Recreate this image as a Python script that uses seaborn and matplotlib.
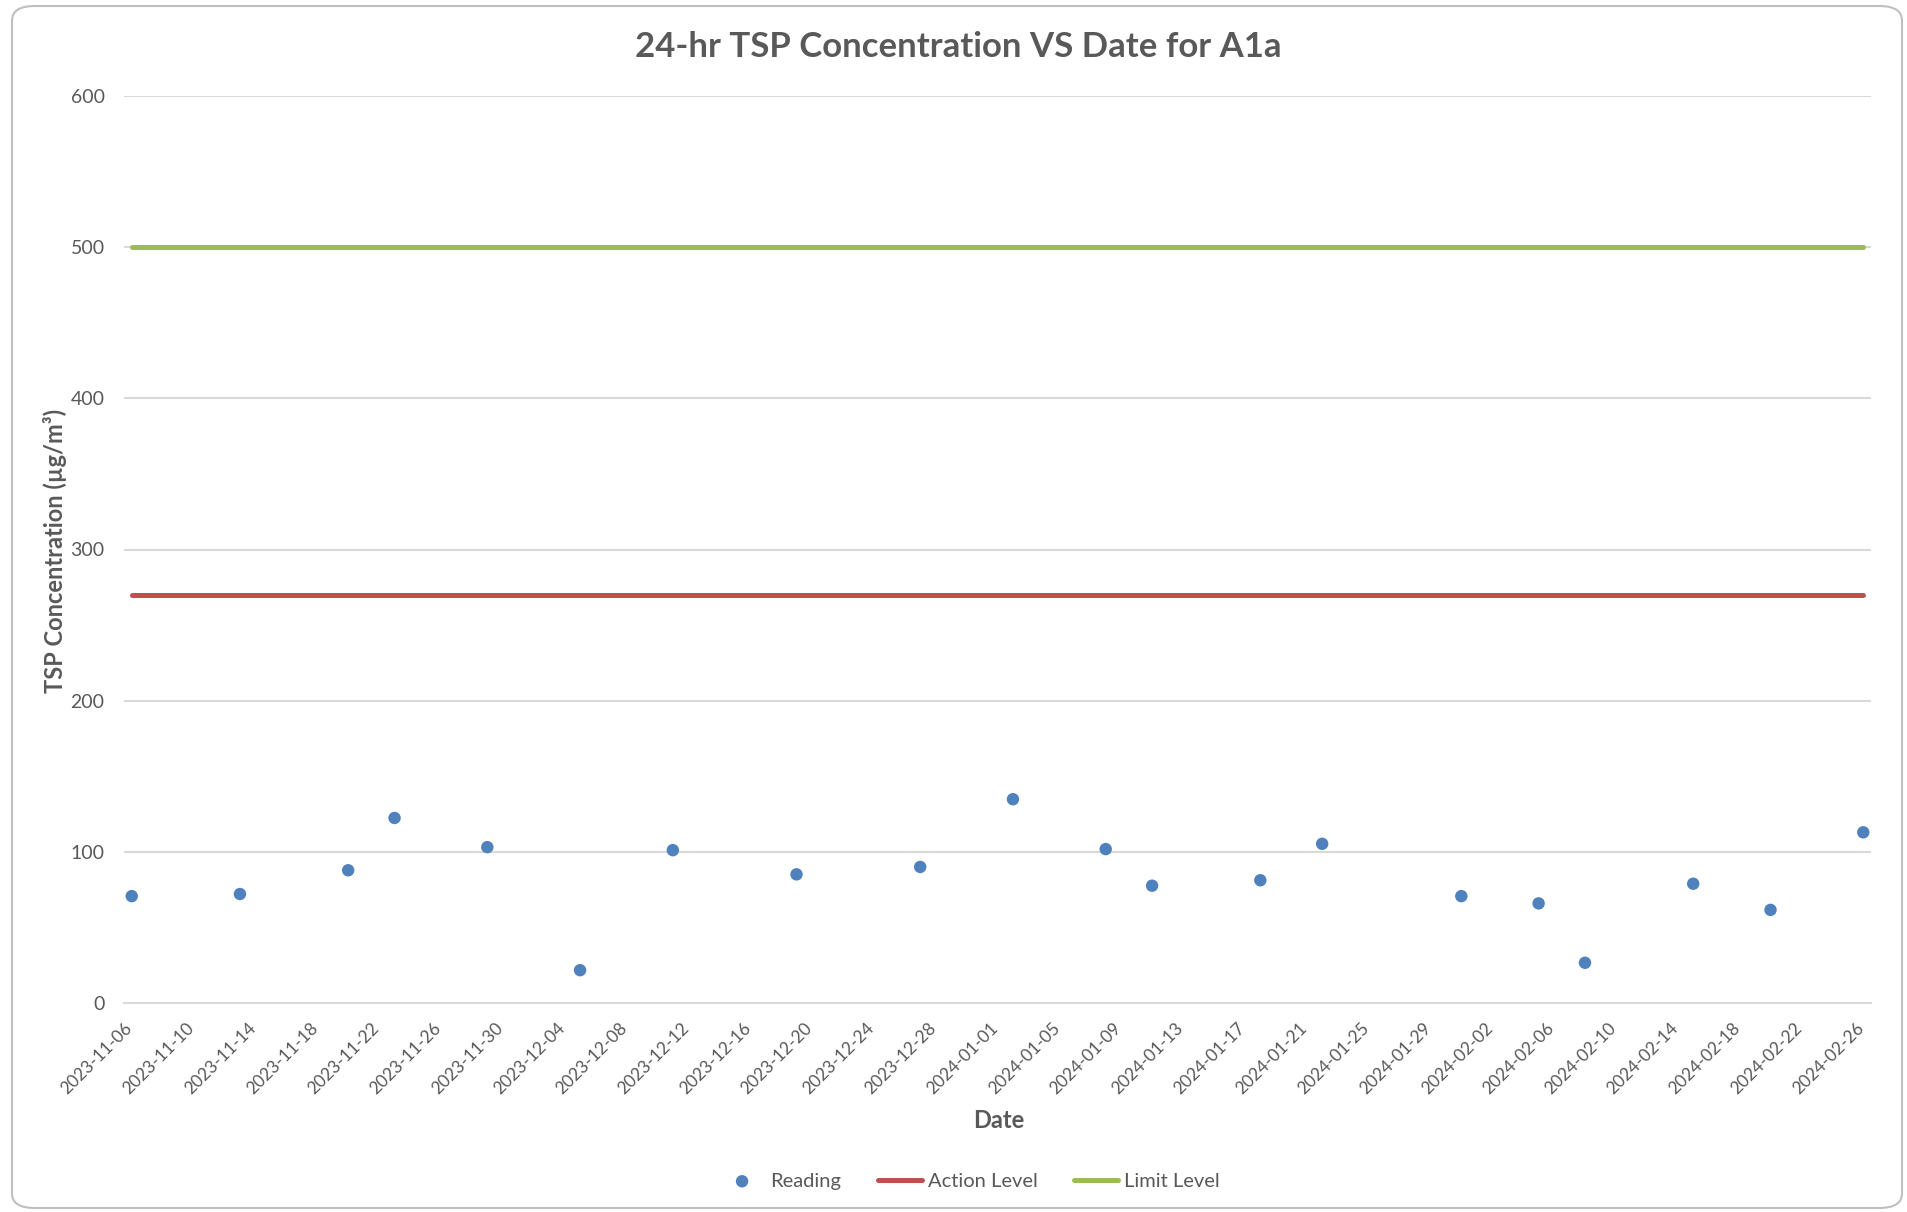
import seaborn as sns
import matplotlib.pyplot as plt
import matplotlib.dates as mdates
from matplotlib.patches import FancyBboxPatch
import pandas as pd

# readings
dates = ["2023-11-06", "2023-11-13", "2023-11-20", "2023-11-23", "2023-11-29",
         "2023-12-05", "2023-12-11", "2023-12-19", "2023-12-27", "2024-01-02",
         "2024-01-08", "2024-01-11", "2024-01-18", "2024-01-22", "2024-01-31",
         "2024-02-05", "2024-02-08", "2024-02-15", "2024-02-20", "2024-02-26"]
readings = [70.7, 72.1, 87.8, 122.4, 103.1,
            21.7, 101.1, 85.1, 90.0, 134.8,
            101.8, 77.6, 81.2, 105.3, 70.7,
            65.9, 26.6, 78.9, 61.6, 112.9]
action_level = [270] * len(dates)
limit_level = [500] * len(dates)

df = pd.DataFrame({"Date": pd.to_datetime(dates), "Reading": readings,
                   "Action Level": action_level, "Limit Level": limit_level})
# Excel date axis puts each point in the middle of its day
df["pos"] = df["Date"] + pd.Timedelta(hours=12)

sns.set_style("white")
plt.rcParams["font.family"] = ["Lato", "DejaVu Sans"]
grey = "#595959"

fig = plt.figure(figsize=(19.08, 12.12), dpi=100)
fig.patches.append(FancyBboxPatch((12 / 1908, 4 / 1212), 1890 / 1908, 1202 / 1212,
                                  boxstyle="round,pad=0,rounding_size=0.012",
                                  transform=fig.transFigure, fill=False,
                                  edgecolor="#bfbfbf", linewidth=1.5))
ax = fig.add_axes([124 / 1908, 1 - 1003 / 1212, (1871 - 124) / 1908, (1003 - 96) / 1212])

sns.lineplot(data=df, x="pos", y="Action Level", ax=ax, color="#C0504D",
             linewidth=3.6, label="Action Level", zorder=3)
sns.lineplot(data=df, x="pos", y="Limit Level", ax=ax, color="#9BBB59",
             linewidth=3.6, label="Limit Level", zorder=3)
sns.scatterplot(data=df, x="pos", y="Reading", ax=ax, color="#4F81BD",
                s=80, edgecolor="none", label="Reading", zorder=4)

ax.set_ylim(0, 600)
ax.set_yticks(range(0, 601, 100))
ax.set_xlim(pd.Timestamp("2023-11-06"), pd.Timestamp("2024-02-27"))
ax.set_xticks(pd.date_range("2023-11-06", "2024-02-26", freq="4D"))
ax.xaxis.set_major_formatter(mdates.DateFormatter("%Y-%m-%d"))
ax.grid(axis="y", color="#d9d9d9", linewidth=1.5)
ax.set_axisbelow(True)
for s in ["top", "right", "left"]:
    ax.spines[s].set_visible(False)
ax.spines["bottom"].set_color("#d9d9d9")
ax.spines["bottom"].set_linewidth(1.5)
ax.tick_params(axis="x", colors=grey, labelsize=12.5, length=8, width=1.5,
               color="#d9d9d9", direction="out", pad=4)
ax.tick_params(axis="y", colors=grey, labelsize=14, length=0, pad=14)
plt.setp(ax.get_xticklabels(), rotation=45, ha="right", rotation_mode="anchor")

ax.set_xlabel("")
ax.set_ylabel("")
fig.text(958 / 1908, 1 - 47 / 1212, "24-hr TSP Concentration VS Date for A1a",
         ha="center", va="center", fontsize=25, fontweight="bold", color=grey)
fig.text(999 / 1908, 1 - 1120 / 1212, "Date", ha="center", va="center",
         fontsize=17, fontweight="bold", color=grey)
fig.text(55 / 1908, 1 - 551 / 1212, "TSP Concentration (µg/m³)", ha="center",
         va="center", rotation=90, fontsize=17, fontweight="bold", color=grey)

handles, labels = ax.get_legend_handles_labels()
order = [labels.index(n) for n in ["Reading", "Action Level", "Limit Level"]]
ax.get_legend().remove()
fig.legend([handles[i] for i in order], [labels[i] for i in order],
           loc="center", bbox_to_anchor=(970 / 1908, 1 - 1181 / 1212), ncol=3,
           frameon=False, fontsize=14.5, labelcolor=grey, handlelength=2.2,
           handletextpad=0.3, columnspacing=1.8)

plt.savefig("out.png", dpi=100)
